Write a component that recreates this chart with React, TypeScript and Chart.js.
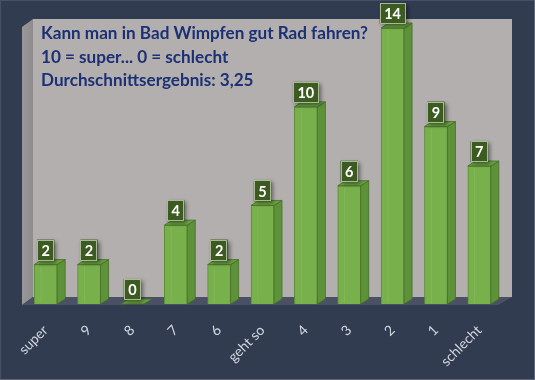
import React, { useEffect, useRef } from "react";
import { Chart, registerables } from "chart.js";

Chart.register(...registerables);

const categories = ["super", "9", "8", "7", "6", "geht so", "4", "3", "2", "1", "schlecht"];
const votes = [2, 2, 0, 4, 2, 5, 10, 6, 14, 9, 7];
const titleLines = [
  "Kann man in Bad Wimpfen gut Rad fahren?",
  "10 = super... 0 = schlecht",
  "Durchschnittsergebnis: 3,25",
];
const yMax = 14;

const BG = "#323c51";
const WALL = "#b3afaf";
const SIDEWALL = "#8f8c8e";
const FLOOR = "#4a5164";
const FRONT = "#78b04c";
const FRONT_EDGE = "#5b8c36";
const SIDE = "#5e9238";
const TOP = "#6aa141";
const BOX = "#3c5b20";

const scenePlugin = {
  id: "scene",
  beforeDatasetsDraw(chart: any) {
    const { ctx, chartArea } = chart;
    const L = chartArea.left, R = chartArea.right, T = chartArea.top, B = chartArea.bottom;
    const dx = 11, dy = -8;
    const fl = L - 2, fb = B + 1, fr = R - 3;
    const bl = fl + dx, bb = fb + dy, br = R + 11, bt = T - 9;
    ctx.save();
    ctx.fillStyle = WALL;
    ctx.fillRect(bl, bt, br - bl, bb - bt);
    const g = ctx.createLinearGradient(fl, 0, bl, 0);
    g.addColorStop(0, "#9a9799");
    g.addColorStop(1, SIDEWALL);
    ctx.fillStyle = g;
    ctx.beginPath();
    ctx.moveTo(fl, T - 1);
    ctx.lineTo(bl, bt);
    ctx.lineTo(bl, bb);
    ctx.lineTo(fl, fb);
    ctx.closePath();
    ctx.fill();
    ctx.fillStyle = FLOOR;
    ctx.beginPath();
    ctx.moveTo(fl, fb);
    ctx.lineTo(bl, bb);
    ctx.lineTo(br, bb);
    ctx.lineTo(fr, fb);
    ctx.closePath();
    ctx.fill();
    ctx.fillStyle = "#1b3075";
    let size = 17;
    ctx.font = `bold ${size}px Lato, "Open Sans", sans-serif`;
    const w = ctx.measureText(titleLines[0]).width;
    size = size * 327 / w;
    ctx.font = `bold ${size.toFixed(2)}px Lato, "Open Sans", sans-serif`;
    ctx.textBaseline = "alphabetic";
    ctx.textAlign = "left";
    titleLines.forEach((line, i) => {
      ctx.fillText(line, L + 17, T + 11 + i * 23.5);
    });
    ctx.restore();
  },
  afterDatasetsDraw(chart: any) {
    const { ctx } = chart;
    const meta = chart.getDatasetMeta(0);
    const ddx = 8, ddy = -5;
    ctx.save();
    meta.data.forEach((bar: any, i: number) => {
      const x = bar.x, top = bar.y, base = bar.base, w = bar.width;
      const l = x - w / 2, r = x + w / 2;
      if (base - top > 0.5) {
        ctx.fillStyle = SIDE;
        ctx.beginPath();
        ctx.moveTo(r, top);
        ctx.lineTo(r + ddx, top + ddy);
        ctx.lineTo(r + ddx, base + ddy);
        ctx.lineTo(r, base);
        ctx.closePath();
        ctx.fill();
        ctx.strokeStyle = "rgba(70,110,40,0.8)";
        ctx.lineWidth = 1;
        ctx.stroke();
        ctx.strokeStyle = "rgba(150,200,110,0.35)";
        ctx.beginPath();
        ctx.moveTo(l + w * 0.3, top + 2);
        ctx.lineTo(l + w * 0.3, base - 1);
        ctx.stroke();
      }
      ctx.fillStyle = TOP;
      ctx.beginPath();
      ctx.moveTo(l, top);
      ctx.lineTo(l + ddx, top + ddy);
      ctx.lineTo(r + ddx, top + ddy);
      ctx.lineTo(r, top);
      ctx.closePath();
      ctx.fill();
      ctx.strokeStyle = "rgba(70,110,40,0.8)";
      ctx.stroke();

      const label = String(votes[i]);
      ctx.font = 'bold 14.5px Lato, "Open Sans", sans-serif';
      const tw = ctx.measureText(label).width;
      const bw = Math.max(15, tw + 9);
      const bh = 21;
      const bx = x - bw / 2;
      const by = top - 4 - bh;
      ctx.save();
      ctx.shadowColor = "rgba(0,0,0,0.45)";
      ctx.shadowBlur = 4;
      ctx.shadowOffsetX = 2;
      ctx.shadowOffsetY = 2;
      ctx.fillStyle = BOX;
      ctx.fillRect(bx, by, bw, bh);
      ctx.restore();
      ctx.strokeStyle = "#a9b896";
      ctx.lineWidth = 1;
      ctx.strokeRect(Math.round(bx) + 0.5, Math.round(by) + 0.5, Math.round(bw) - 1, bh - 1);
      ctx.fillStyle = "#ffffff";
      ctx.textAlign = "center";
      ctx.textBaseline = "middle";
      ctx.fillText(label, x, by + bh / 2 + 1);
    });
    ctx.restore();
  },
};

export default function App() {
  const ref = useRef<HTMLCanvasElement | null>(null);
  useEffect(() => {
    if (!ref.current) return;
    const chart = new Chart(ref.current, {
      type: "bar",
      data: {
        labels: categories,
        datasets: [
          {
            data: votes,
            backgroundColor: FRONT,
            borderColor: FRONT_EDGE,
            borderWidth: 1,
            barThickness: 23,
          },
        ],
      },
      options: {
        responsive: false,
        animation: false,
        devicePixelRatio: 1,
        layout: { padding: { left: 24, right: 34, top: 28, bottom: 0 } },
        plugins: { legend: { display: false }, tooltip: { enabled: false }, title: { display: false } },
        scales: {
          x: {
            grid: { display: false },
            border: { display: false },
            ticks: {
              color: "#d3d8e1",
              font: { family: 'Lato, "Open Sans", sans-serif', size: 14 },
              minRotation: 45,
              maxRotation: 45,
              autoSkip: false,
              padding: 10,
            },
            afterFit: (scale: any) => {
              scale.height = 76;
            },
          },
          y: { display: false, min: 0, max: yMax },
        },
      },
      plugins: [scenePlugin],
    });
    return () => chart.destroy();
  }, []);
  return (
    <div
      style={{
        position: "absolute",
        left: 0,
        top: 0,
        width: 535,
        height: 380,
        background: BG,
        boxShadow: "inset -1px -1px 0 #5d6576, inset 1px 1px 0 #465066",
      }}
    >
      <canvas ref={ref} width={535} height={380} style={{ display: "block" }} />
    </div>
  );
}
